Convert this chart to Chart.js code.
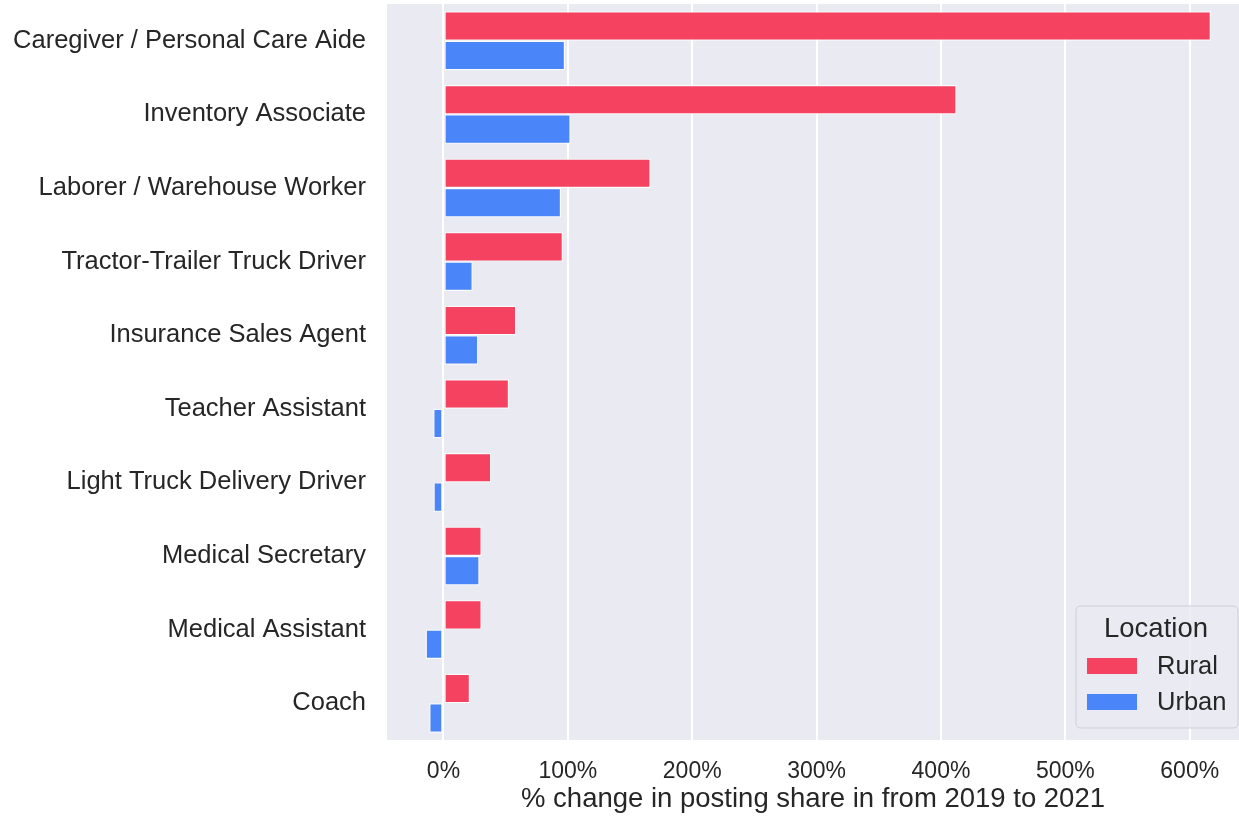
<!DOCTYPE html>
<html>
<head>
<meta charset="utf-8">
<script src="https://cdn.jsdelivr.net/npm/chart.js@4.4.1/dist/chart.umd.min.js"></script>
<style>
html,body{margin:0;padding:0;background:#fff;}
#wrap{width:1239px;height:816px;}
</style>
</head>
<body>
<div id="wrap"><canvas id="c" width="1239" height="816"></canvas></div>
<script>
const categories = ["Caregiver / Personal Care Aide","Inventory Associate","Laborer / Warehouse Worker","Tractor-Trailer Truck Driver","Insurance Sales Agent","Teacher Assistant","Light Truck Delivery Driver","Medical Secretary","Medical Assistant","Coach"];
const rural = [617, 412.5, 166.5, 96, 58.5, 52.7, 38.4, 30.7, 30.7, 21.3];
const urban = [97.7, 102.2, 94.5, 23.5, 28, -8.2, -8, 29, -14.3, -11.4];
const xTicks = [0, 100, 200, 300, 400, 500, 600];
const seriesNames = ["Rural", "Urban"];
const legendTitle = "Location";
const xTitle = "% change in posting share in from 2019 to 2021";

const RED = "rgb(245,66,96)";
const BLUE = "rgb(74,134,250)";
const FONT = "'Liberation Sans', Arial, sans-serif";
const TXT = "#262626";

const legendPlugin = {
  id: 'boxLegend',
  afterDraw(chart) {
    const ctx = chart.ctx;
    ctx.save();
    const x = 1076, y = 606, w = 162, h = 122, r = 5;
    ctx.beginPath();
    ctx.moveTo(x + r, y);
    ctx.lineTo(x + w - r, y); ctx.quadraticCurveTo(x + w, y, x + w, y + r);
    ctx.lineTo(x + w, y + h - r); ctx.quadraticCurveTo(x + w, y + h, x + w - r, y + h);
    ctx.lineTo(x + r, y + h); ctx.quadraticCurveTo(x, y + h, x, y + h - r);
    ctx.lineTo(x, y + r); ctx.quadraticCurveTo(x, y, x + r, y);
    ctx.closePath();
    ctx.fillStyle = "rgba(234,234,242,0.85)";
    ctx.fill();
    ctx.strokeStyle = "#cfcfd6";
    ctx.lineWidth = 1;
    ctx.stroke();
    ctx.fillStyle = TXT;
    ctx.textBaseline = 'middle';
    ctx.textAlign = 'center';
    ctx.font = "27.5px " + FONT;
    ctx.fillText(legendTitle, x + w / 2 - 1, 629);
    const colors = chart.data.datasets.map(d => d.backgroundColor);
    const ys = [666, 702];
    ctx.textAlign = 'left';
    ctx.font = "25.5px " + FONT;
    seriesNames.forEach((n, i) => {
      ctx.fillStyle = colors[i];
      ctx.fillRect(1087, ys[i] - 8, 50, 16);
      ctx.fillStyle = TXT;
      ctx.fillText(n, 1157, ys[i] + 1);
    });
    ctx.restore();
  }
};

const bgPlugin = {
  id: 'plotBg',
  beforeDraw(chart) {
    const a = chart.chartArea, ctx = chart.ctx;
    ctx.save();
    ctx.fillStyle = "#eaeaf2";
    ctx.fillRect(a.left, a.top, a.right - a.left, a.bottom - a.top);
    ctx.restore();
  }
};

new Chart(document.getElementById('c'), {
  type: 'bar',
  data: {
    labels: categories,
    datasets: [
      { label: seriesNames[0], data: rural, backgroundColor: RED, borderColor: "rgba(255,255,255,0.9)", borderWidth: 1.2, borderSkipped: false },
      { label: seriesNames[1], data: urban, backgroundColor: BLUE, borderColor: "rgba(255,255,255,0.9)", borderWidth: 1.2, borderSkipped: false }
    ]
  },
  options: {
    indexAxis: 'y',
    responsive: false,
    animation: false,
    layout: { padding: { top: 4, right: 0, bottom: 0, left: 0 } },
    datasets: { bar: { categoryPercentage: 0.8, barPercentage: 1.0 } },
    plugins: {
      legend: { display: false },
      tooltip: { enabled: false }
    },
    scales: {
      x: {
        type: 'linear',
        min: -45.4,
        max: 639.6,
        afterBuildTicks(scale) { scale.ticks = xTicks.map(v => ({ value: v })); },
        afterFit(scale) { scale.height = 76; scale.paddingLeft = 0; scale.paddingRight = 0; },
        grid: { color: "#ffffff", lineWidth: 2, drawTicks: false },
        border: { display: false },
        ticks: {
          padding: 18,
          color: TXT,
          font: { family: FONT, size: 23 },
          callback: v => v + "%"
        },
        title: {
          display: true,
          text: xTitle,
          color: TXT,
          font: { family: FONT, size: 27.5 },
          padding: { top: 4, bottom: 0 }
        }
      },
      y: {
        afterFit(scale) { scale.width = 387; scale.paddingTop = 0; scale.paddingBottom = 0; },
        grid: { display: false, drawTicks: false },
        border: { display: false },
        ticks: {
          padding: 21,
          color: TXT,
          font: { family: FONT, size: 25.5 }
        }
      }
    }
  },
  plugins: [bgPlugin, legendPlugin]
});
</script>
</body>
</html>
